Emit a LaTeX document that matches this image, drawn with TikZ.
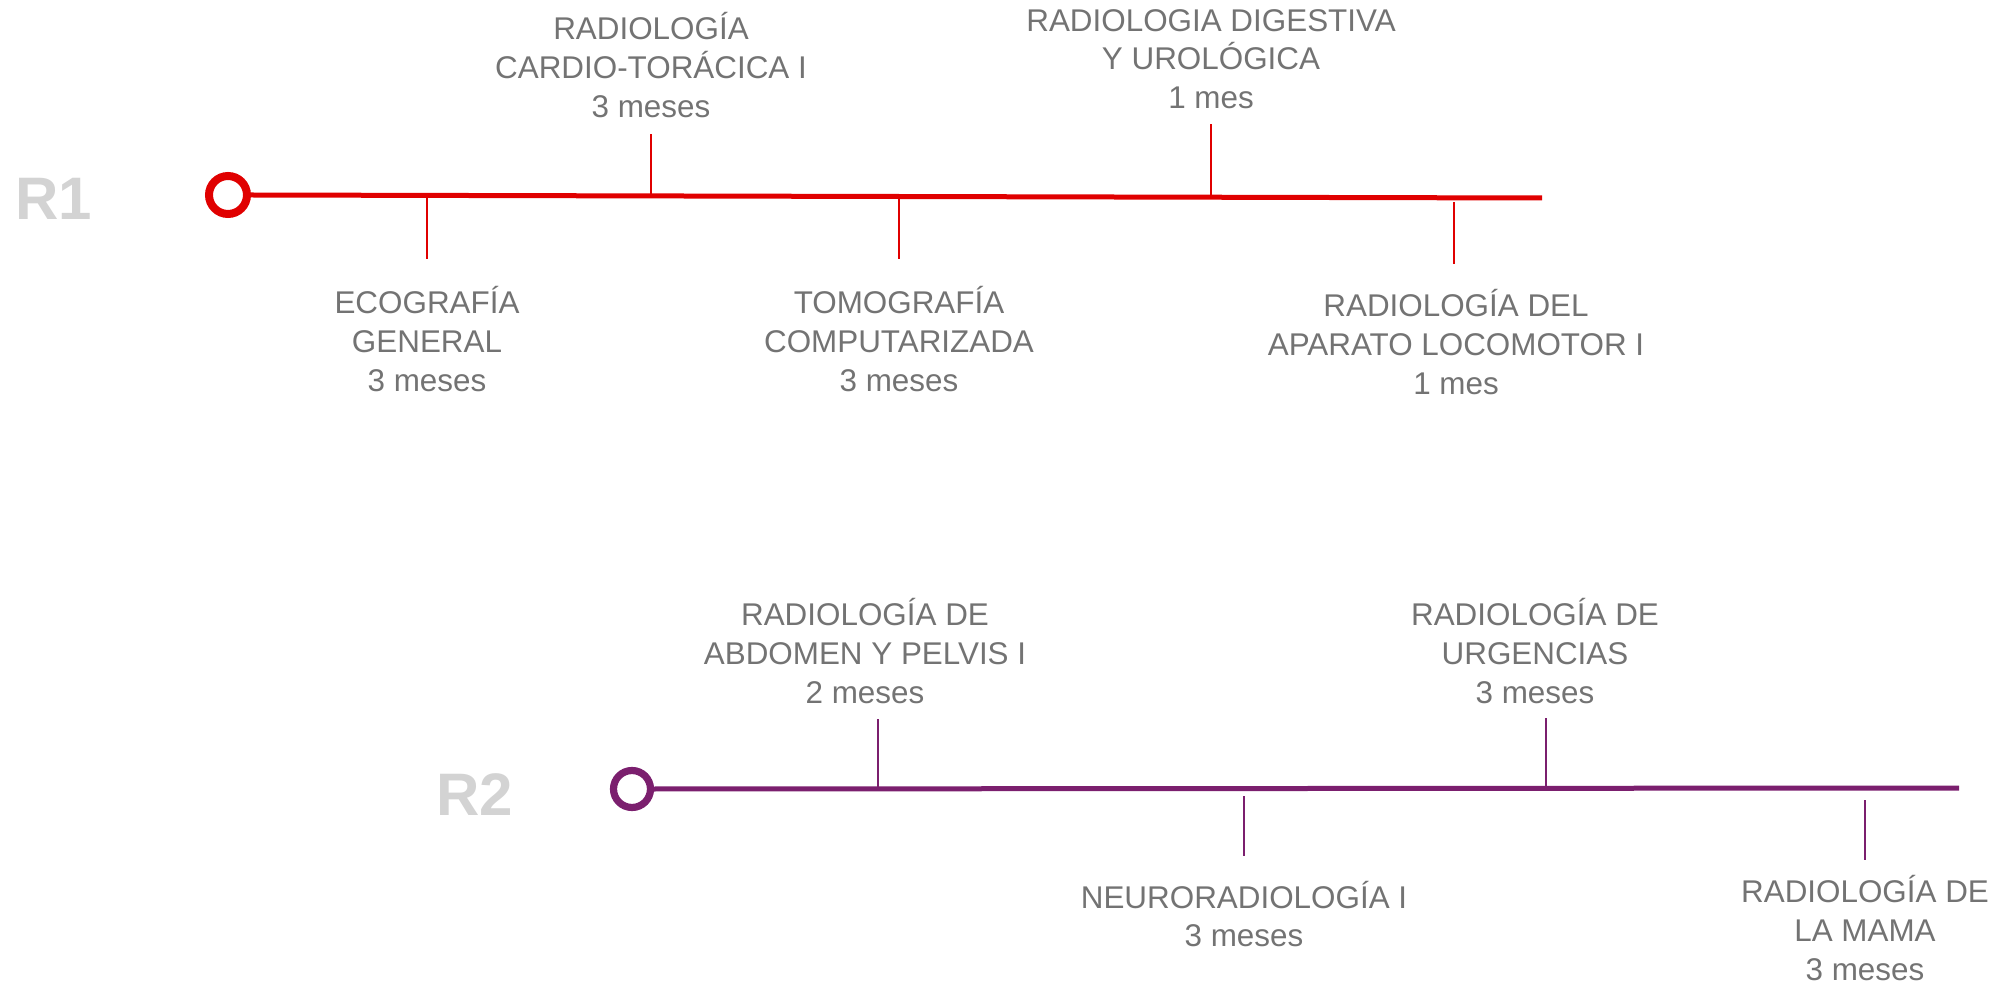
\documentclass[tikz,border=0pt]{standalone}
\usepackage{fontspec}
\setmainfont{Liberation Sans}
\definecolor{rojo}{HTML}{E00000}
\definecolor{morado}{HTML}{7B1F6E}
\definecolor{gristexto}{HTML}{737373}
\definecolor{grisclaro}{HTML}{D3D3D3}
\tikzstyle{every node}=[inner sep=0pt,align=center,text=gristexto,font=\fontsize{15.7}{19.3}\selectfont]
\tikzstyle{anio}=[text=grisclaro,font=\fontsize{30}{30}\selectfont\bfseries]
\tikzstyle{inicio}=[circle,draw,minimum size=19pt]
\tikzstyle{eje}=[line width=2.5pt]
\tikzstyle{marca}=[line width=1pt]

\begin{document}
\begin{tikzpicture}[x=0.5pt,y=-0.5pt]
  \useasboundingbox (0,0) rectangle (2003,983);
  % R1
  \node [anio] (r1) at (54,199) {R1};
  \node [inicio,draw=rojo,line width=4pt] (o1) at (228,195) {};
  \coordinate (f1) at (1542,198);
  \draw [eje,rojo] (o1.east) -- (f1);
  \coordinate (a1) at (651,196);
  \coordinate (a2) at (1211,197);
  \coordinate (b1) at (427,197);
  \coordinate (b2) at (899,197);
  \coordinate (b3) at (1454,199);
  \draw [marca,rojo] (a1) -- ++(0,-62);
  \draw [marca,rojo] (a2) -- ++(0,-73);
  \draw [marca,rojo] (b1) -- ++(0,62);
  \draw [marca,rojo] (b2) -- ++(0,62);
  \draw [marca,rojo] (b3) ++(0,3) -- ++(0,62);
  \node (cardio) at (651,65) {RADIOLOGÍA\\CARDIO-TORÁCICA I\\3 meses};
  \node (digest) at (1211,59) {RADIOLOGIA DIGESTIVA\\Y UROLÓGICA\\1 mes};
  \node (ecogr) at (427,339) {ECOGRAFÍA\\GENERAL\\3 meses};
  \node (tomogr) at (899,339) {TOMOGRAFÍA\\COMPUTARIZADA\\3 meses};
  \node (locom) at (1456,342) {RADIOLOGÍA DEL\\APARATO LOCOMOTOR I\\1 mes};
  % R2
  \node [anio] (r2) at (475,795) {R2};
  \node [inicio,draw=morado,line width=3.6pt,minimum size=18.5pt] (o2) at (632,789) {};
  \coordinate (f2) at (1959,788);
  \draw [eje,morado] (o2.east) -- (f2);
  \coordinate (c1) at (878,787);
  \coordinate (c2) at (1546,787);
  \coordinate (d1) at (1244,790);
  \coordinate (d2) at (1865,790);
  \draw [marca,morado] (c1) -- ++(0,-68);
  \draw [marca,morado] (c2) -- ++(0,-69);
  \draw [marca,morado] (d1) ++(0,6) -- ++(0,60);
  \draw [marca,morado] (d2) ++(0,10) -- ++(0,60);
  \node (abdom) at (865,651) {RADIOLOGÍA DE\\ABDOMEN Y PELVIS I\\2 meses};
  \node (urgen) at (1535,651) {RADIOLOGÍA DE\\URGENCIAS\\3 meses};
  \node (neuro) at (1244,914) {NEURORADIOLOGÍA I\\3 meses};
  \node (mama) at (1865,928) {RADIOLOGÍA DE\\LA MAMA\\3 meses};
\end{tikzpicture}
\end{document}
